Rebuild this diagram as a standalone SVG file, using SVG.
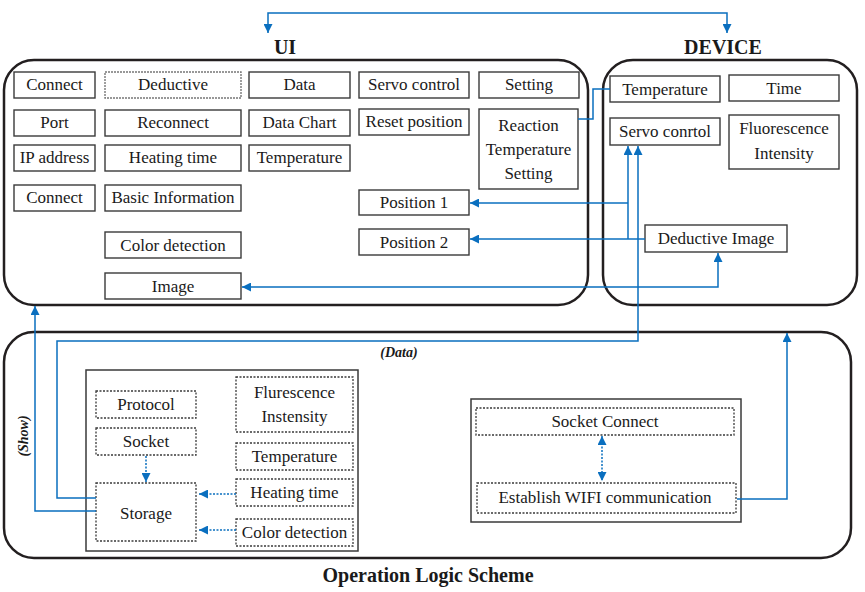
<svg xmlns="http://www.w3.org/2000/svg" width="865" height="592" viewBox="0 0 865 592">
<defs>
<marker id="ah" viewBox="0 0 10 10" refX="10" refY="5" markerWidth="9" markerHeight="9" markerUnits="userSpaceOnUse" orient="auto-start-reverse">
<path d="M0,0 L10,5 L0,10 Z" fill="#0a6fbf"/>
</marker>
</defs>
<style>
.big{fill:#fff;stroke:#231f20;stroke-width:2.5}
.n{fill:#fff;stroke:#3a3a3a;stroke-width:1.4}
.d{fill:#fff;stroke:#3a3a3a;stroke-width:1.3;stroke-dasharray:2,1.5}
.dg{fill:#fff;stroke:#777;stroke-width:1.4;stroke-dasharray:2,1}
.in{fill:#fff;stroke:#3a3a3a;stroke-width:1.5}
text{font-family:"Liberation Serif","Times New Roman",serif;font-size:17px;fill:#1a1a1a;text-anchor:middle}
.h{font-weight:bold;font-size:20px}
.lbl{font-weight:bold;font-style:italic;font-size:14px}
.c{fill:none;stroke:#0a6fbf;stroke-width:1.5}
.cd{fill:none;stroke:#0a6fbf;stroke-width:1.5;stroke-dasharray:2,1.5}
</style>
<rect width="865" height="592" fill="#fff"/>
<g id="ui-frame"><rect class="big" x="4" y="60" width="584" height="245" rx="30"/><text class="h" x="285" y="54">UI</text></g>
<g id="device-frame"><rect class="big" x="603" y="60" width="254" height="245" rx="30"/><text class="h" x="723" y="54">DEVICE</text></g>
<g id="op-frame"><rect class="big" x="4" y="332" width="847" height="226" rx="30"/><text class="h" x="428" y="582">Operation Logic Scheme</text></g>

<g id="ui-connect"><rect class="n" x="14" y="72" width="81" height="26"/><text x="54.5" y="90">Connect</text></g>
<g id="ui-port"><rect class="n" x="14" y="110" width="81" height="26"/><text x="54.5" y="128">Port</text></g>
<g id="ui-ip"><rect class="n" x="14" y="145" width="81" height="26"/><text x="54.5" y="163">IP address</text></g>
<g id="ui-connect2"><rect class="n" x="14" y="185" width="81" height="26"/><text x="54.5" y="203">Connect</text></g>
<g id="ui-deductive"><rect class="dg" x="105" y="72" width="136" height="26"/><text x="173" y="90">Deductive</text></g>
<g id="ui-reconnect"><rect class="n" x="105" y="110" width="136" height="26"/><text x="173" y="128">Reconnect</text></g>
<g id="ui-heating"><rect class="n" x="105" y="145" width="136" height="26"/><text x="173" y="163">Heating time</text></g>
<g id="ui-basic"><rect class="n" x="105" y="185" width="136" height="26"/><text x="173" y="203">Basic Information</text></g>
<g id="ui-color"><rect class="n" x="105" y="232" width="136" height="26"/><text x="173" y="251">Color detection</text></g>
<g id="ui-image"><rect class="n" x="105" y="273" width="136" height="26"/><text x="173" y="292">Image</text></g>
<g id="ui-data"><rect class="n" x="249" y="72" width="101" height="26"/><text x="299.5" y="90">Data</text></g>
<g id="ui-datachart"><rect class="n" x="249" y="110" width="101" height="26"/><text x="299.5" y="128">Data Chart</text></g>
<g id="ui-temp"><rect class="n" x="249" y="145" width="101" height="26"/><text x="299.5" y="163">Temperature</text></g>
<g id="ui-servo"><rect class="n" x="359" y="72" width="110" height="26"/><text x="414" y="90">Servo control</text></g>
<g id="ui-reset"><rect class="n" x="359" y="109" width="110" height="26"/><text x="414" y="127">Reset position</text></g>
<g id="ui-pos1"><rect class="n" x="359" y="190" width="110" height="25"/><text x="414" y="208">Position 1</text></g>
<g id="ui-pos2"><rect class="n" x="359" y="229" width="110" height="26"/><text x="414" y="248">Position 2</text></g>
<g id="ui-setting"><rect class="n" x="479" y="72" width="100" height="26"/><text x="529" y="90">Setting</text></g>
<g id="ui-reaction"><rect class="n" x="479" y="109" width="99" height="80"/><text x="528.5" y="131">Reaction</text><text x="528.5" y="155">Temperature</text><text x="528.5" y="179">Setting</text></g>

<g id="dev-temp"><rect class="n" x="610" y="76" width="110" height="26"/><text x="665" y="95">Temperature</text></g>
<g id="dev-time"><rect class="n" x="729" y="75" width="110" height="26"/><text x="784" y="94">Time</text></g>
<g id="dev-servo"><rect class="n" x="610" y="118" width="110" height="27"/><text x="665" y="137">Servo conrtol</text></g>
<g id="dev-fluor"><rect class="n" x="729" y="115" width="110" height="54"/><text x="784" y="134">Fluorescence</text><text x="784" y="159">Intensity</text></g>
<g id="dev-dedimg"><rect class="n" x="645" y="225" width="142" height="27"/><text x="716" y="244">Deductive Image</text></g>

<g id="op-left"><rect class="in" x="86" y="370" width="272" height="181"/></g>
<g id="op-protocol"><rect class="d" x="96" y="391" width="100" height="27"/><text x="146" y="410">Protocol</text></g>
<g id="op-socket"><rect class="d" x="96" y="428" width="100" height="27"/><text x="146" y="447">Socket</text></g>
<g id="op-storage"><rect class="d" x="96" y="483" width="100" height="58"/><text x="146" y="519">Storage</text></g>
<g id="op-flur"><rect class="d" x="236" y="377" width="117" height="55"/><text x="294.5" y="398">Flurescence</text><text x="294.5" y="422">Instensity</text></g>
<g id="op-temp"><rect class="d" x="236" y="443" width="117" height="27"/><text x="294.5" y="462">Temperature</text></g>
<g id="op-heating"><rect class="d" x="236" y="479" width="117" height="27"/><text x="294.5" y="498">Heating time</text></g>
<g id="op-color"><rect class="d" x="236" y="519" width="117" height="27"/><text x="294.5" y="538">Color detection</text></g>
<g id="op-right"><rect class="in" x="471" y="399" width="270" height="123"/></g>
<g id="op-socketconnect"><rect class="d" x="476" y="408" width="258" height="27"/><text x="605" y="427">Socket Connect</text></g>
<g id="op-wifi"><rect class="d" x="477" y="483" width="259" height="30"/><text x="605" y="503">Establish WIFI communication</text></g>

<g id="connectors">
<path class="c" d="M268,33 V13 H727 V33" marker-start="url(#ah)" marker-end="url(#ah)"/>
<path class="c" d="M578,119 H593 V89 H610"/>
<path class="c" d="M628,203 H470" marker-end="url(#ah)"/>
<path class="c" d="M645,239 H470" marker-end="url(#ah)"/>
<path class="c" d="M628,239 V146" marker-end="url(#ah)"/>
<path class="c" d="M96,498 H57 V341 H638 V146" marker-end="url(#ah)"/>
<path class="c" d="M718,253 V287 H242" marker-start="url(#ah)" marker-end="url(#ah)"/>
<path class="c" d="M96,511 H35 V306" marker-end="url(#ah)"/>
<path class="c" d="M737,499 H787 V333" marker-end="url(#ah)"/>
<path class="cd" d="M146,456 V482" marker-end="url(#ah)"/>
<path class="cd" d="M236,494 H199" marker-end="url(#ah)"/>
<path class="cd" d="M236,530 H199" marker-end="url(#ah)"/>
<path class="cd" d="M602,436 V481" marker-start="url(#ah)" marker-end="url(#ah)"/>
<text class="lbl" x="399" y="357">(Data)</text>
<text class="lbl" transform="translate(28,436) rotate(-90)" x="0" y="0">(Show)</text>
</g>
</svg>
